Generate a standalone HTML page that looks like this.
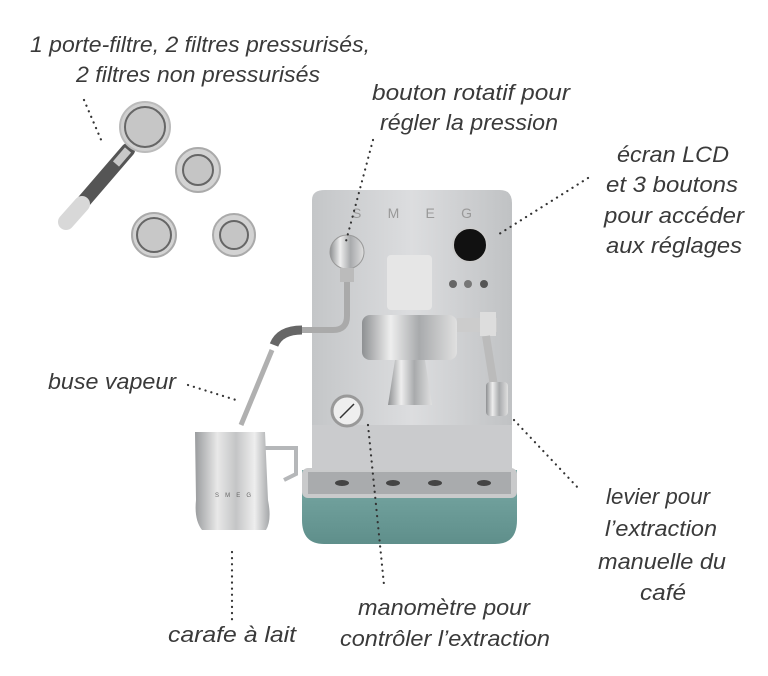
<!DOCTYPE html>
<html><head><meta charset="utf-8"><style>
html,body{margin:0;padding:0;background:#fff;}
svg{display:block}
text.l{font-family:"Liberation Sans",sans-serif;font-style:italic;font-size:22px;fill:#3a3a3a;}
.d{stroke:#333;stroke-width:2.2;stroke-dasharray:0.1 6;stroke-linecap:round;fill:none}
</style></head><body>
<svg width="768" height="676" viewBox="0 0 768 676" xmlns="http://www.w3.org/2000/svg">
<defs>
<linearGradient id="steel" x1="0" x2="1"><stop offset="0" stop-color="#c4c6c8"/><stop offset="0.5" stop-color="#dcdddf"/><stop offset="1" stop-color="#c0c2c4"/></linearGradient>
<linearGradient id="chrome" x1="0" x2="1"><stop offset="0" stop-color="#8e9092"/><stop offset="0.3" stop-color="#eeeeee"/><stop offset="0.6" stop-color="#a8aaac"/><stop offset="1" stop-color="#e0e0e0"/></linearGradient>
<linearGradient id="teal" x1="0" y1="0" x2="0" y2="1"><stop offset="0" stop-color="#7aaaa6"/><stop offset="1" stop-color="#5f8f8b"/></linearGradient>
<linearGradient id="jug" x1="0" x2="1"><stop offset="0" stop-color="#9a9c9e"/><stop offset="0.3" stop-color="#e8e8e8"/><stop offset="0.55" stop-color="#c4c5c6"/><stop offset="0.8" stop-color="#eeeeee"/><stop offset="1" stop-color="#a5a7a9"/></linearGradient>
</defs>

<!-- portafilter -->
<g>
<path d="M128 150 L66 222" stroke="#555" stroke-width="14" stroke-linecap="round"/>
<path d="M82 204 L66 222" stroke="#d8d8d8" stroke-width="16" stroke-linecap="round"/>
<path d="M128 150 L116 164" stroke="#c8c8c8" stroke-width="8"/>
<circle cx="145" cy="127" r="25" fill="#d0d0d0" stroke="#bbb" stroke-width="2"/>
<circle cx="145" cy="127" r="20" fill="#c6c6c6" stroke="#666" stroke-width="2"/>
<circle cx="198" cy="170" r="22" fill="#d3d3d3" stroke="#aaa" stroke-width="2"/>
<circle cx="198" cy="170" r="15" fill="#c5c5c5" stroke="#666" stroke-width="2"/>
<circle cx="154" cy="235" r="22" fill="#d3d3d3" stroke="#aaa" stroke-width="2"/>
<circle cx="154" cy="235" r="17" fill="#c8c8c8" stroke="#666" stroke-width="2"/>
<circle cx="234" cy="235" r="21" fill="#d3d3d3" stroke="#aaa" stroke-width="2"/>
<circle cx="234" cy="235" r="14" fill="#c5c5c5" stroke="#666" stroke-width="2"/>
</g>

<!-- machine -->
<path d="M302 470 L517 470 L517 520 Q517 544 495 544 L324 544 Q302 544 302 520 Z" fill="url(#teal)"/>
<rect x="302" y="468" width="215" height="30" rx="6" fill="#c9cacb"/>
<rect x="308" y="472" width="203" height="22" fill="#a9abad"/>
<g fill="#444"><ellipse cx="342" cy="483" rx="7" ry="3"/><ellipse cx="393" cy="483" rx="7" ry="3"/><ellipse cx="435" cy="483" rx="7" ry="3"/><ellipse cx="484" cy="483" rx="7" ry="3"/></g>
<path d="M312 200 Q312 190 325 190 L500 190 Q512 190 512 203 L512 470 L312 470 Z" fill="url(#steel)"/>
<rect x="312" y="425" width="200" height="45" fill="#cacbcd"/>
<text x="352" y="218" style="font-family:'Liberation Sans',sans-serif;font-size:14px;fill:#999" textLength="120" lengthAdjust="spacing">S M E G</text>
<circle cx="470" cy="245" r="17" fill="#111" stroke="#ccc" stroke-width="2"/>
<circle cx="453" cy="284" r="4" fill="#666"/><circle cx="468" cy="284" r="4" fill="#777"/><circle cx="484" cy="284" r="4" fill="#555"/>
<rect x="387" y="255" width="45" height="55" rx="4" fill="#e6e6e6"/>
<circle cx="347" cy="252" r="17" fill="url(#chrome)" stroke="#999"/>
<rect x="340" y="268" width="14" height="14" fill="#bbb"/>
<path d="M347 282 L347 316 Q347 330 333 330 L302 330" stroke="#aaa" stroke-width="6" fill="none"/>
<path d="M302 330 Q280 330 274 345" stroke="#666" stroke-width="9" fill="none"/>
<path d="M272 350 L241 425" stroke="#b0b0b0" stroke-width="5"/>
<rect x="362" y="315" width="95" height="45" rx="8" fill="url(#chrome)"/>
<rect x="457" y="318" width="40" height="14" fill="#ccc"/>
<rect x="480" y="312" width="16" height="24" fill="#ddd"/>
<path d="M486 336 L494 386" stroke="#bbb" stroke-width="8"/>
<rect x="486" y="382" width="22" height="34" rx="4" fill="url(#chrome)"/>
<path d="M395 360 L425 360 L432 405 L388 405 Z" fill="url(#chrome)"/>
<circle cx="347" cy="411" r="15" fill="#eee" stroke="#999" stroke-width="3"/>
<path d="M340 418 L354 404" stroke="#333" stroke-width="1.5"/>
<!-- jug -->
<path d="M265 448 L296 448 L296 474 L284 480" stroke="#b5b7b9" stroke-width="4" fill="none"/>
<path d="M195 432 L265 432 L268 500 Q272 520 266 530 L202 530 Q194 520 196 500 Z" fill="url(#jug)"/>
<text x="215" y="497" style="font-family:'Liberation Sans',sans-serif;font-size:6px;fill:#666" textLength="36">S M E G</text>

<!-- dotted leaders -->
<path class="d" d="M84 100 L102 142"/>
<path class="d" d="M373 140 L345 245"/>
<path class="d" d="M588 178 L496 236"/>
<path class="d" d="M188 385 L236 400"/>
<path class="d" d="M514 420 L580 490"/>
<path class="d" d="M232 552 L232 620"/>
<path class="d" d="M368 425 L384 585"/>

<!-- labels -->
<g>
<text class="l" x="30" y="52" textLength="340" lengthAdjust="spacingAndGlyphs">1 porte-filtre, 2 filtres pressurisés,</text>
<text class="l" x="76" y="82" textLength="244" lengthAdjust="spacingAndGlyphs">2 filtres non pressurisés</text>
<text class="l" x="372" y="100" textLength="198" lengthAdjust="spacingAndGlyphs">bouton rotatif pour</text>
<text class="l" x="380" y="130" textLength="178" lengthAdjust="spacingAndGlyphs">régler la pression</text>
<text class="l" x="617" y="162" textLength="112" lengthAdjust="spacingAndGlyphs">écran LCD</text>
<text class="l" x="606" y="192" textLength="132" lengthAdjust="spacingAndGlyphs">et 3 boutons</text>
<text class="l" x="604" y="223" textLength="140" lengthAdjust="spacingAndGlyphs">pour accéder</text>
<text class="l" x="606" y="253" textLength="136" lengthAdjust="spacingAndGlyphs">aux réglages</text>
<text class="l" x="48" y="389" textLength="128" lengthAdjust="spacingAndGlyphs">buse vapeur</text>
<text class="l" x="606" y="504" textLength="104" lengthAdjust="spacingAndGlyphs">levier pour</text>
<text class="l" x="605" y="536" textLength="112" lengthAdjust="spacingAndGlyphs">l’extraction</text>
<text class="l" x="598" y="569" textLength="128" lengthAdjust="spacingAndGlyphs">manuelle du</text>
<text class="l" x="640" y="600" textLength="46" lengthAdjust="spacingAndGlyphs">café</text>
<text class="l" x="168" y="642" textLength="128" lengthAdjust="spacingAndGlyphs">carafe à lait</text>
<text class="l" x="358" y="615" textLength="172" lengthAdjust="spacingAndGlyphs">manomètre pour</text>
<text class="l" x="340" y="646" textLength="210" lengthAdjust="spacingAndGlyphs">contrôler l’extraction</text>
</g>
</svg>
</body></html>
